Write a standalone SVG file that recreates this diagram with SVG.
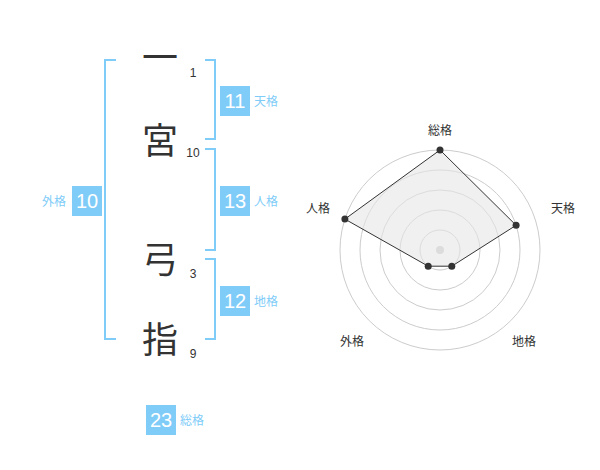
<svg xmlns="http://www.w3.org/2000/svg" width="600" height="470" viewBox="0 0 600 470">
<style>
.kanji{font-family:"Noto Sans CJK JP","Noto Sans CJK SC",sans-serif;font-size:36px;fill:#333;text-anchor:middle}
.num{font-family:"Liberation Sans",Arial,sans-serif;font-size:12px;fill:#333;text-anchor:middle}
.box{fill:#80ccf8}
.boxt{font-family:"Liberation Sans",Arial,sans-serif;font-size:20px;fill:#fff;text-anchor:middle}
.lbl{font-family:"Noto Sans CJK JP",sans-serif;font-size:12px;fill:#80ccf8}
.br{fill:none;stroke:#80ccf8;stroke-width:2}
.ring{fill:none;stroke:#cccccc;stroke-width:1}
.rl{font-family:"Noto Sans CJK JP",sans-serif;font-size:12px;fill:#333;text-anchor:middle}
.dot{fill:#333}
</style>
<rect width="600" height="470" fill="#fff"/>
<g id="chars">
<g id="c1"><text class="kanji" x="160" y="71">一</text><text class="num" x="193" y="77">1</text></g>
<g id="c2"><text class="kanji" x="160" y="154">宮</text><text class="num" x="193" y="157">10</text></g>
<g id="c3"><text class="kanji" x="160" y="273">弓</text><text class="num" x="193" y="278">3</text></g>
<g id="c4"><text class="kanji" x="160" y="353">指</text><text class="num" x="193" y="358">9</text></g>
</g>
<g id="connectors">
<path class="br" d="M116,60 H105 V339 H116"/>
<path class="br" d="M205,60 H215 V139 H205"/>
<path class="br" d="M205,149 H215 V250 H205"/>
<path class="br" d="M205,259 H215 V339 H205"/>
</g>
<g id="tenkaku"><rect class="box" x="220" y="86" width="30" height="30"/><text class="boxt" x="235" y="108">11</text><text class="lbl" x="254" y="106">天格</text></g>
<g id="jinkaku"><rect class="box" x="220" y="186" width="30" height="30"/><text class="boxt" x="235" y="208">13</text><text class="lbl" x="254" y="206">人格</text></g>
<g id="chikaku"><rect class="box" x="220" y="286" width="30" height="30"/><text class="boxt" x="235" y="308">12</text><text class="lbl" x="254" y="306">地格</text></g>
<g id="gaikaku"><rect class="box" x="72" y="186" width="30" height="30"/><text class="boxt" x="87" y="208">10</text><text class="lbl" x="66" y="206" text-anchor="end">外格</text></g>
<g id="soukaku"><rect class="box" x="146" y="405" width="30" height="30"/><text class="boxt" x="161" y="427">23</text><text class="lbl" x="180" y="425">総格</text></g>
<g id="radar">
<circle class="ring" cx="440" cy="250" r="20"/>
<circle class="ring" cx="440" cy="250" r="40"/>
<circle class="ring" cx="440" cy="250" r="60"/>
<circle class="ring" cx="440" cy="250" r="80"/>
<circle class="ring" cx="440" cy="250" r="100"/>
<circle cx="440" cy="250" r="4" fill="#cccccc"/>
<polygon points="440,150 516.1,225.3 451.8,266.2 428.2,266.2 344.9,219.1" fill="#e6e6e6" fill-opacity="0.6" stroke="#333" stroke-width="1"/>
<circle class="dot" cx="440" cy="150" r="3.5"/>
<circle class="dot" cx="516.1" cy="225.3" r="3.5"/>
<circle class="dot" cx="451.8" cy="266.2" r="3.5"/>
<circle class="dot" cx="428.2" cy="266.2" r="3.5"/>
<circle class="dot" cx="344.9" cy="219.1" r="3.5"/>
<text class="rl" x="440" y="135">総格</text>
<text class="rl" x="563" y="213">天格</text>
<text class="rl" x="318" y="213">人格</text>
<text class="rl" x="352" y="346">外格</text>
<text class="rl" x="524" y="346">地格</text>
</g>
</svg>
